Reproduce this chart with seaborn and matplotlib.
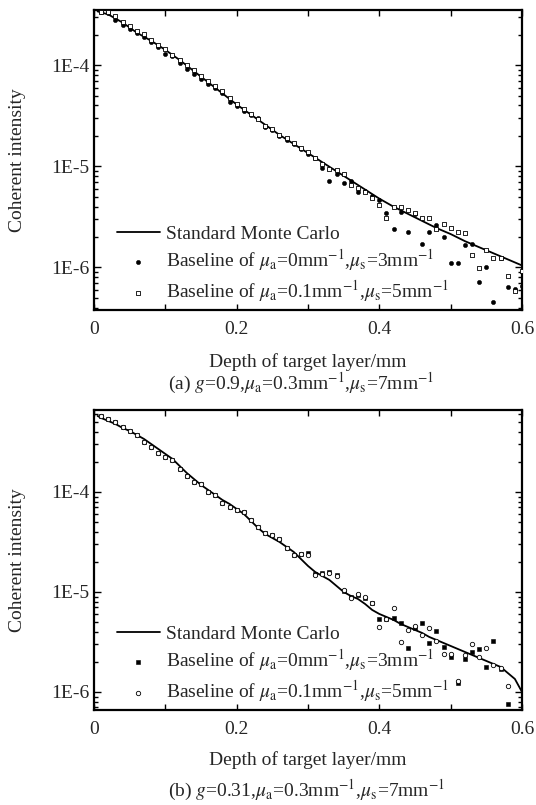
import numpy as np
import matplotlib
matplotlib.use("Agg")
import matplotlib.pyplot as plt
import seaborn as sns
from matplotlib.ticker import LogLocator, NullFormatter, FuncFormatter, MultipleLocator

# ------------------------------- data ----------------------------------
# values, in log10(coherent intensity)
depth_pts = [round(0.01 * i, 2) for i in range(1, 61)]

# (a) g=0.9
a_line_x = [0.005, 0.02, 0.04, 0.06, 0.08, 0.10, 0.12, 0.14, 0.16, 0.18, 0.20,
            0.22, 0.24, 0.26, 0.28, 0.30, 0.32, 0.34, 0.36, 0.38, 0.40,
            0.42, 0.44, 0.46, 0.48, 0.50, 0.52, 0.54, 0.56, 0.58, 0.60]
a_line_log = [-3.47, -3.50, -3.58, -3.68, -3.76, -3.85, -3.95, -4.06, -4.17, -4.28, -4.39,
              -4.49, -4.59, -4.69, -4.78, -4.87, -4.96, -5.05, -5.14, -5.23, -5.32,
              -5.40, -5.47, -5.54, -5.61, -5.67, -5.74, -5.80, -5.86, -5.92, -5.98]
a_base0_log = [-3.48, -3.49, -3.55, -3.60, -3.64, -3.68, -3.72, -3.77, -3.82, -3.89,
               -3.91, -3.98, -4.04, -4.09, -4.14, -4.19, -4.23, -4.28, -4.37, -4.40,
               -4.45, -4.49, -4.52, -4.61, -4.64, -4.70, -4.74, -4.78, -4.83, -4.88,
               -4.92, -5.02, -5.15, -5.08, -5.17, -5.15, -5.25, -5.24, -5.29, -5.33,
               -5.46, -5.62, -5.45, -5.65, -5.47, -5.77, -5.65, -5.58, -5.70, -5.96,
               -5.96, -5.78, -5.77, -6.14, -6.00, -6.34, -5.91, -6.19, -6.21, -6.18]
a_base1_log = [-3.48, -3.48, -3.52, -3.57, -3.61, -3.66, -3.69, -3.75, -3.80, -3.84,
               -3.90, -3.95, -4.00, -4.05, -4.11, -4.16, -4.21, -4.26, -4.33, -4.38,
               -4.43, -4.48, -4.53, -4.60, -4.63, -4.69, -4.72, -4.77, -4.82, -4.86,
               -4.92, -4.98, -5.03, -5.04, -5.08, -5.19, -5.21, -5.25, -5.31, -5.38,
               -5.51, -5.40, -5.40, -5.43, -5.46, -5.51, -5.51, -5.62, -5.57, -5.61,
               -5.65, -5.66, -5.88, -6.01, -5.83, -5.91, -5.91, -6.08, -6.23, -6.03]

# (b) g=0.31
b_line_x = [0.005] + depth_pts
b_line_log = [-3.24, -3.26, -3.29, -3.32, -3.36, -3.39, -3.43, -3.47, -3.52, -3.57, -3.62,
              -3.67, -3.74, -3.81, -3.87, -3.93, -3.98, -4.03, -4.08, -4.12, -4.17,
              -4.22, -4.29, -4.36, -4.42, -4.46, -4.50, -4.55, -4.60, -4.67, -4.74,
              -4.80, -4.84, -4.88, -4.94, -5.00, -5.04, -5.07, -5.12, -5.18, -5.22,
              -5.25, -5.28, -5.32, -5.35, -5.38, -5.41, -5.45, -5.48, -5.51, -5.54,
              -5.57, -5.60, -5.63, -5.66, -5.69, -5.72, -5.75, -5.81, -5.87, -6.00]
b_base1_log = [-3.24, -3.27, -3.30, -3.35, -3.39, -3.43, -3.50, -3.55, -3.61, -3.65,
               -3.68, -3.77, -3.84, -3.90, -3.92, -4.00, -4.03, -4.11, -4.15, -4.18,
               -4.20, -4.28, -4.35, -4.41, -4.43, -4.47, -4.56, -4.63, -4.62, -4.63,
               -4.83, -4.82, -4.81, -4.84, -4.98, -5.06, -5.02, -5.05, -5.11, -5.35,
               -5.27, -5.16, -5.50, -5.38, -5.34, -5.43, -5.36, -5.49, -5.62, -5.62,
               -5.89, -5.63, -5.52, -5.65, -5.56, -5.73, -5.76, -5.94]
b_base0_log = [-3.24, -3.27, -3.30, -3.35, -3.39, -3.43, -3.50, -3.55, -3.61, -3.65,
               -3.68, -3.77, -3.84, -3.90, -3.92, -4.00, -4.03, -4.11, -4.15, -4.18,
               -4.20, -4.28, -4.35, -4.41, -4.43, -4.47, -4.56, -4.63, -4.62, -4.61,
               -4.82, -4.81, -4.80, -4.83, -4.99, -5.05, -5.03, -5.06, -5.11, -5.27,
               -5.27, -5.26, -5.31, -5.56, -5.36, -5.31, -5.51, -5.39, -5.55, -5.65,
               -5.91, -5.67, -5.60, -5.57, -5.75, -5.49, -5.77, -6.12]

LBL_LINE = "Standard Monte Carlo"
LBL_B0 = r"Baseline of $\mu_{\rm a}$=0mm$^{-1}$,$\mu_{\rm s}$=3mm$^{-1}$"
LBL_B1 = r"Baseline of $\mu_{\rm a}$=0.1mm$^{-1}$,$\mu_{\rm s}$=5mm$^{-1}$"
CAP_A = r"(a) $g$=0.9,$\mu_{\rm a}$=0.3mm$^{-1}$,$\mu_{\rm s}$=7mm$^{-1}$"
CAP_B = r"(b) $g$=0.31,$\mu_{\rm a}$=0.3mm$^{-1}$,$\mu_{\rm s}$=7mm$^{-1}$"

# ------------------------------ style ----------------------------------
sns.set_style("ticks")
plt.rcParams["font.family"] = ["Liberation Serif", "DejaVu Serif"]
plt.rcParams["mathtext.fontset"] = "stix"
FS = 14


def _p10(v):
    return np.power(10.0, np.asarray(v, dtype=float))


def _style_axis(ax, ylim):
    ax.set_yscale("log")
    ax.set_xlim(0, 0.6)
    ax.set_ylim(*ylim)
    ax.xaxis.set_major_locator(MultipleLocator(0.2))
    ax.xaxis.set_minor_locator(MultipleLocator(0.1))
    ax.xaxis.set_major_formatter(FuncFormatter(lambda v, p: f"{v:g}"))
    ax.yaxis.set_major_locator(LogLocator(base=10))
    ax.yaxis.set_minor_locator(LogLocator(base=10, subs=np.arange(2, 10)))
    ax.yaxis.set_minor_formatter(NullFormatter())
    ax.yaxis.set_major_formatter(FuncFormatter(lambda v, p: f"1E{int(round(np.log10(v)))}"))
    ax.tick_params(which="both", direction="in", top=True, right=True,
                   labelsize=FS, width=1.0, color="black")
    ax.tick_params(axis="y", which="major", length=5)
    ax.tick_params(axis="y", which="minor", length=3)
    ax.tick_params(axis="x", which="both", length=4)
    ax.tick_params(axis="x", pad=8)
    for s in ax.spines.values():
        s.set_linewidth(1.6)
        s.set_color("black")
    ax.set_xlabel("")
    ax.set_ylabel("")


def _panel(ax, line_x, line_log, pts_x0, log0, m0, pts_x1, log1, m1):
    sns.lineplot(x=line_x, y=_p10(line_log), ax=ax, color="black", lw=1.3,
                 label=LBL_LINE, zorder=2)
    sns.scatterplot(x=pts_x0, y=_p10(log0), ax=ax, marker=m0, s=9,
                    color="black", edgecolor="black", linewidth=0.4,
                    label=LBL_B0, zorder=3)
    sns.scatterplot(x=pts_x1, y=_p10(log1), ax=ax, marker=m1, s=10,
                    color="white", edgecolor="black", linewidth=0.6,
                    label=LBL_B1, zorder=4)


fig = plt.figure(figsize=(5.36, 8.05), dpi=100)
ax1 = fig.add_axes([0.1754, 0.6149, 0.7985, 0.3727])
ax2 = fig.add_axes([0.1754, 0.1180, 0.7985, 0.3727])

_panel(ax1, a_line_x, a_line_log, depth_pts, a_base0_log, "o", depth_pts, a_base1_log, "s")
_panel(ax2, b_line_x, b_line_log, depth_pts[:58], b_base0_log, "s", depth_pts[:58], b_base1_log, "o")

_style_axis(ax1, (3.8e-7, 3.5e-4))
_style_axis(ax2, (6.6e-7, 6.6e-4))

for ax in (ax1, ax2):
    ax.legend(loc="lower left", bbox_to_anchor=(0.04, 0.0), frameon=False,
              fontsize=FS, handlelength=2.2, handletextpad=0.3,
              labelspacing=0.25, borderaxespad=0.1, borderpad=0.2,
              markerscale=1.0)

fig.text(18 / 536, 0.8012, "Coherent intensity", rotation=90, ha="center", va="center", fontsize=FS)
fig.text(18 / 536, 0.3043, "Coherent intensity", rotation=90, ha="center", va="center", fontsize=FS)
fig.text(308 / 536, 1 - 362 / 805, "Depth of target layer/mm", ha="center", va="center", fontsize=FS)
fig.text(308 / 536, 1 - 760 / 805, "Depth of target layer/mm", ha="center", va="center", fontsize=FS)
fig.text(301 / 536, 1 - 383 / 805, CAP_A, ha="center", va="center", fontsize=FS)
fig.text(307 / 536, 1 - 790 / 805, CAP_B, ha="center", va="center", fontsize=FS)

fig.savefig("out.png", dpi=100)
plt.close(fig)
